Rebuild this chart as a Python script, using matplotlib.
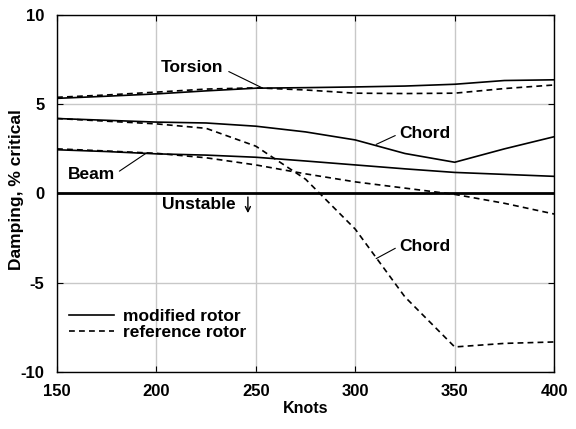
import matplotlib
matplotlib.use("Agg")
import matplotlib.pyplot as plt

knots = [150, 175, 200, 225, 250, 275, 300, 325, 350, 375, 400]

torsion_mod = [5.33, 5.45, 5.58, 5.75, 5.90, 5.93, 5.97, 6.02, 6.12, 6.33, 6.37]
torsion_ref = [5.39, 5.52, 5.68, 5.85, 5.92, 5.80, 5.62, 5.60, 5.62, 5.88, 6.08]
chord_mod = [4.20, 4.10, 4.00, 3.95, 3.77, 3.45, 3.00, 2.24, 1.75, 2.50, 3.18]
chord_ref = [4.20, 4.05, 3.90, 3.65, 2.65, 0.80, -2.00, -5.80, -8.60, -8.40, -8.32]
beam_mod = [2.45, 2.35, 2.22, 2.15, 2.03, 1.82, 1.60, 1.38, 1.18, 1.07, 0.96]
beam_ref = [2.50, 2.38, 2.25, 2.00, 1.60, 1.10, 0.65, 0.30, -0.05, -0.55, -1.15]

xticks = [150, 200, 250, 300, 350, 400]
yticks = [-10, -5, 0, 5, 10]
ytick_labels = ["-10", "-5", "0", "5", "10"]

plt.rcParams['font.family'] = ['Liberation Sans', 'DejaVu Sans']

fig = plt.figure(figsize=(5.76, 4.29), dpi=100)
ax = fig.add_axes([0.099, 0.133, 0.863, 0.832])

lw = 1.2
dash = (0, (3.5, 2.5))
ax.plot(knots, torsion_mod, color='black', lw=lw, label='modified rotor')
ax.plot(knots, torsion_ref, color='black', lw=lw, linestyle=dash, label='reference rotor')
ax.plot(knots, chord_mod, color='black', lw=lw)
ax.plot(knots, chord_ref, color='black', lw=lw, linestyle=dash)
ax.plot(knots, beam_mod, color='black', lw=lw)
ax.plot(knots, beam_ref, color='black', lw=lw, linestyle=dash)

ax.axhline(0, color='black', lw=2.0, zorder=3)

ax.set_xlim(150, 400)
ax.set_ylim(-10, 10)
ax.set_xticks(xticks)
ax.set_yticks(yticks)
ax.set_yticklabels(ytick_labels)
ax.grid(True, color='#c8c8c8', lw=1.0)
ax.set_axisbelow(True)
ax.tick_params(direction='in', length=4, top=True, right=True, labelsize=12)
ax.tick_params(axis='x', pad=9)
ax.tick_params(axis='y', pad=9)
for lab in ax.get_xticklabels() + ax.get_yticklabels():
    lab.set_fontweight('bold')
for s in ax.spines.values():
    s.set_linewidth(1.0)

ax.set_xlabel('Knots', fontsize=11.5, fontweight='bold', labelpad=1)
ax.set_ylabel('Damping, % critical', fontsize=12.5, fontweight='bold')
ax.yaxis.set_label_coords(-0.066, 0.51)

fs = 12.5
ax.annotate('Torsion', xy=(253.5, 5.9), xytext=(218, 7.06), fontsize=fs, fontweight='bold',
            ha='center', va='center',
            arrowprops=dict(arrowstyle='-', lw=0.8, color='black', shrinkA=2, shrinkB=0,
                            relpos=(1.0, 0.4)))
ax.annotate('Chord', xy=(310.5, 2.75), xytext=(335, 3.35), fontsize=fs, fontweight='bold',
            ha='center', va='center',
            arrowprops=dict(arrowstyle='-', lw=0.8, color='black', shrinkA=1, shrinkB=0,
                            relpos=(0.0, 0.5)))
ax.annotate('Beam', xy=(195, 2.27), xytext=(167.5, 1.06), fontsize=fs, fontweight='bold',
            ha='center', va='center',
            arrowprops=dict(arrowstyle='-', lw=0.8, color='black', shrinkA=1, shrinkB=0,
                            relpos=(1.0, 0.55)))
ax.annotate('Chord', xy=(310.5, -3.65), xytext=(335, -2.95), fontsize=fs, fontweight='bold',
            ha='center', va='center',
            arrowprops=dict(arrowstyle='-', lw=0.8, color='black', shrinkA=1, shrinkB=0,
                            relpos=(0.0, 0.5)))
ax.text(203, -0.6, 'Unstable', fontsize=fs, fontweight='bold', ha='left', va='center')
ax.annotate('', xy=(246, -1.1), xytext=(246, -0.2),
            arrowprops=dict(arrowstyle='->', lw=1.0, color='black', shrinkA=0, shrinkB=0,
                            mutation_scale=9))

leg = ax.legend(loc='lower left', bbox_to_anchor=(0.0, 0.055), frameon=False,
                prop={'weight': 'bold', 'size': 12.5}, handlelength=2.6,
                handletextpad=0.5, labelspacing=0.05, borderaxespad=0.3)

fig.savefig('out.png', dpi=100)
